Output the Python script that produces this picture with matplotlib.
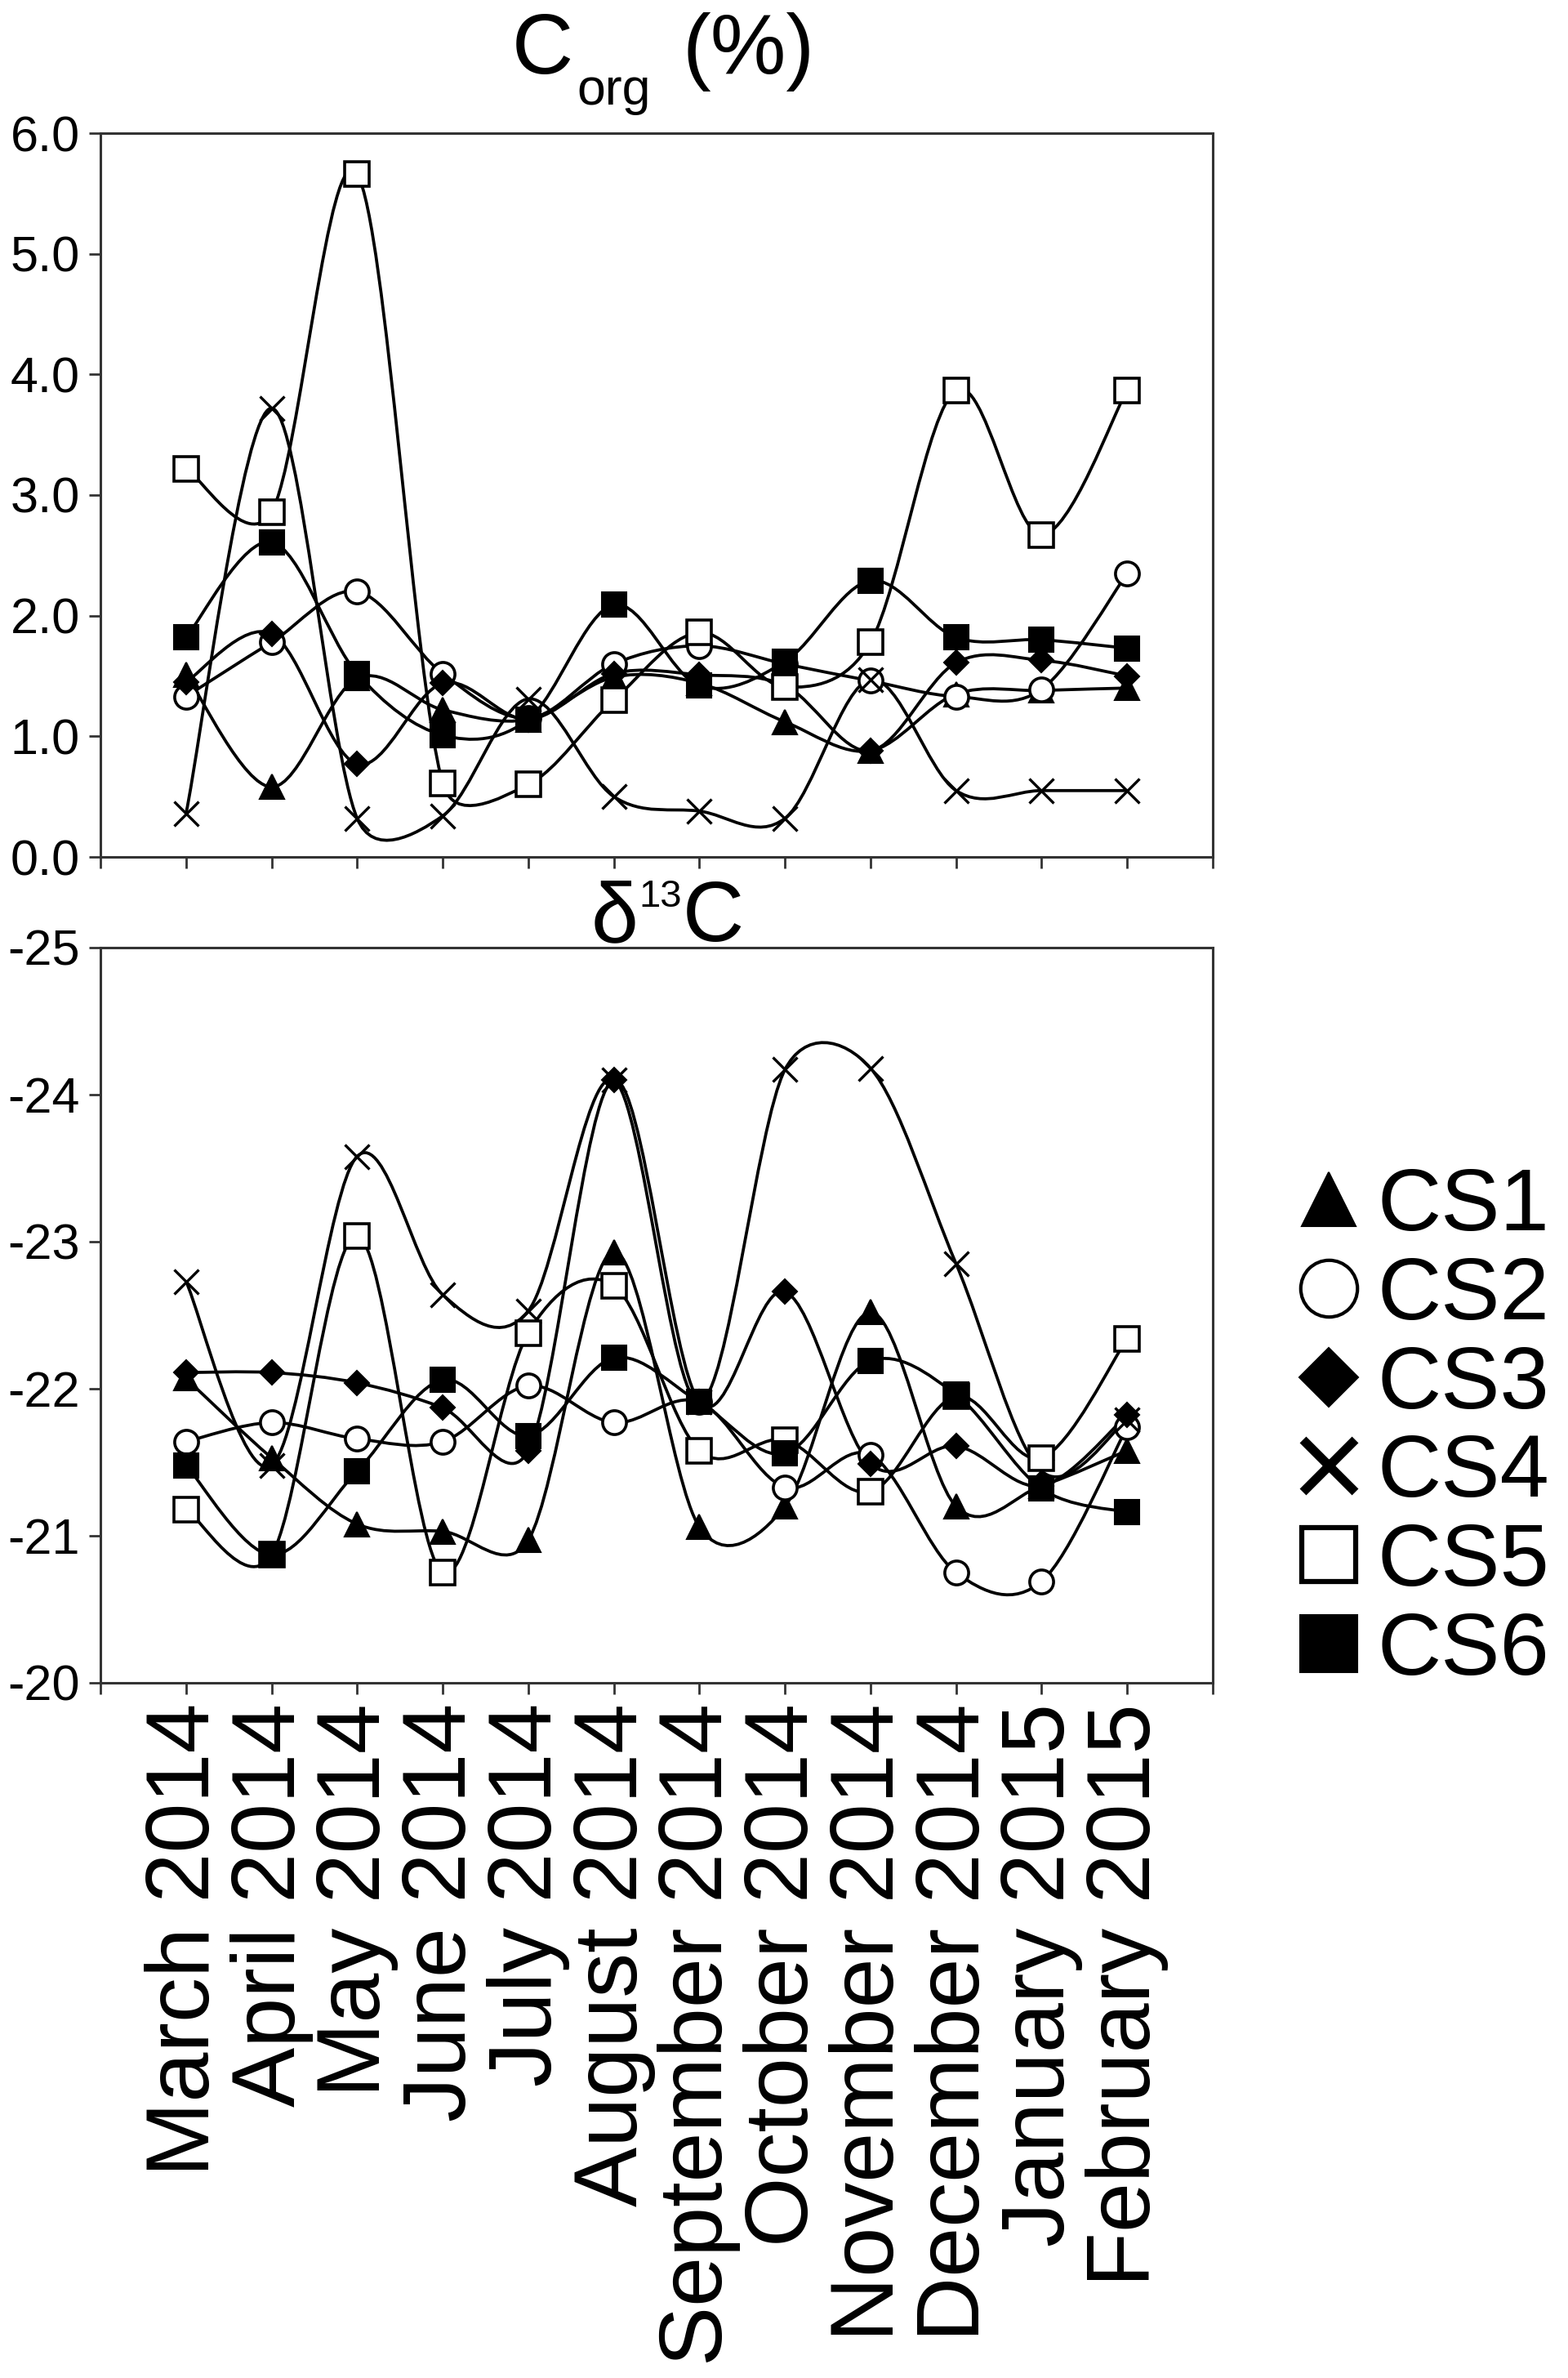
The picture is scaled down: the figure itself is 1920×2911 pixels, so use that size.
import matplotlib
matplotlib.use("Agg")
import numpy as np
import matplotlib.pyplot as plt
from matplotlib.path import Path
from matplotlib.patches import PathPatch
from matplotlib.lines import Line2D

plt.rcParams["font.family"] = ["Liberation Sans", "DejaVu Sans"]
plt.rcParams["axes.unicode_minus"] = False

# ---- data ----
months = ["March 2014", "April 2014", "May 2014", "June 2014", "July 2014",
          "August 2014", "September 2014", "October 2014", "November 2014",
          "December 2014", "January 2015", "February 2015"]
stations = ["CS1", "CS2", "CS3", "CS4", "CS5", "CS6"]

# Corg (%)
corg_cs1 = [1.51, 0.58, 1.48, 1.22, 1.14, 1.49, 1.44, 1.12, 0.88, 1.35, 1.38, 1.40]
corg_cs2 = [1.33, 1.78, 2.20, 1.52, 1.15, 1.60, 1.75, 1.60, 1.46, 1.33, 1.39, 2.35]
corg_cs3 = [1.45, 1.85, 0.77, 1.44, 1.14, 1.52, 1.51, 1.42, 0.88, 1.61, 1.63, 1.50]
corg_cs4 = [0.36, 3.72, 0.32, 0.34, 1.31, 0.50, 0.38, 0.32, 1.47, 0.55, 0.55, 0.55]
corg_cs5 = [3.22, 2.86, 5.66, 0.61, 0.60, 1.30, 1.86, 1.41, 1.78, 3.87, 2.67, 3.87]
corg_cs6 = [1.82, 2.61, 1.52, 1.01, 1.14, 2.09, 1.42, 1.62, 2.29, 1.82, 1.80, 1.73]

# delta 13C
d13c_cs1 = [-22.07, -21.53, -21.08, -21.03, -20.97, -22.93, -21.06, -21.20, -22.52, -21.20, -21.34, -21.58]
d13c_cs2 = [-21.64, -21.77, -21.66, -21.64, -22.02, -21.77, -21.91, -21.33, -21.55, -20.75, -20.69, -21.74]
d13c_cs3 = [-22.11, -22.11, -22.04, -21.87, -21.58, -24.10, -21.91, -22.66, -21.49, -21.61, -21.34, -21.82]
d13c_cs4 = [-22.73, -21.48, -23.58, -22.64, -22.53, -24.10, -21.91, -24.17, -24.18, -22.85, -21.44, -21.79]
d13c_cs5 = [-21.18, -20.87, -23.04, -20.75, -22.38, -22.70, -21.58, -21.65, -21.30, -21.95, -21.53, -22.34]
d13c_cs6 = [-21.48, -20.87, -21.44, -22.06, -21.68, -22.21, -21.91, -21.56, -22.19, -21.96, -21.32, -21.16]

corg = [corg_cs1, corg_cs2, corg_cs3, corg_cs4, corg_cs5, corg_cs6]
d13c = [d13c_cs1, d13c_cs2, d13c_cs3, d13c_cs4, d13c_cs5, d13c_cs6]

# marker styles per station
styles = [
    dict(marker="^", ms=22, mfc="black", mec="black", mew=1.5),
    dict(marker="o", ms=21, mfc="white", mec="black", mew=2.6),
    dict(marker="D", ms=15.5, mfc="black", mec="black", mew=1.5),
    dict(marker="x", ms=21, mfc="black", mec="black", mew=2.4),
    dict(marker="s", ms=21, mfc="white", mec="black", mew=2.6),
    dict(marker="s", ms=22, mfc="black", mec="black", mew=1.5),
]
legend_styles = [
    dict(marker="^", ms=47, mfc="black", mec="black", mew=1.5),
    dict(marker="o", ms=50, mfc="white", mec="black", mew=3),
    dict(marker="D", ms=37, mfc="black", mec="black", mew=1.5),
    dict(marker="x", ms=46, mfc="black", mec="black", mew=8),
    dict(marker="s", ms=48, mfc="white", mec="black", mew=4.5),
    dict(marker="s", ms=50, mfc="black", mec="black", mew=1.5),
]

W, H = 1920, 2911


def smooth_path(ax, xs, ys):
    # spreadsheet-style smoothed line: cubic Bezier pieces whose handles
    # are capped at half the segment length (worked out in pixels)
    p = ax.transData.transform(np.column_stack([xs, ys]))
    n = len(p)
    verts = [p[0]]
    codes = [Path.MOVETO]
    for i in range(n - 1):
        p0 = p[i - 1] if i > 0 else p[i]
        p1, p2 = p[i], p[i + 1]
        p3 = p[i + 2] if i + 2 < n else p[i + 1]
        d12 = np.hypot(*(p2 - p1))
        d02 = np.hypot(*(p2 - p0))
        d13 = np.hypot(*(p3 - p1))
        f0 = min(1 / 6, d12 / (2 * d02)) if d02 > 0 else 0
        f1 = min(1 / 6, d12 / (2 * d13)) if d13 > 0 else 0
        verts += [p1 + (p2 - p0) * f0, p2 - (p3 - p1) * f1, p2]
        codes += [Path.CURVE4] * 3
    data = ax.transData.inverted().transform(np.array(verts))
    return Path(data, codes)


def draw_panel(ax, series, ylim):
    xs = list(range(len(months)))
    ax.set_xlim(-1, 12)
    ax.set_ylim(*ylim)
    ax.set_xticks(range(-1, 13))
    for ys in series:
        ax.add_patch(PathPatch(smooth_path(ax, xs, ys), facecolor="none",
                               edgecolor="black", lw=2.7, zorder=2))
    for ys, st in zip(series, styles):
        ax.plot(xs, ys, linestyle="none", zorder=3, **st)
    for s in ax.spines.values():
        s.set_color("#333333")
        s.set_linewidth(2.2)
    ax.tick_params(direction="out", length=10, width=2, color="#333333",
                   labelsize=44, pad=8)


fig = plt.figure(figsize=(W / 100, H / 100), dpi=100)

ax1 = fig.add_axes([123 / W, 1 - 1049 / H, 1362 / W, 886 / H])
draw_panel(ax1, corg, (0, 6))
ax1.set_yticks([0, 1, 2, 3, 4, 5, 6])
ax1.set_yticklabels([f"{v:.1f}" for v in range(7)])
ax1.set_xticklabels([""] * 14)

ax2 = fig.add_axes([123 / W, 1 - 2060 / H, 1362 / W, 900 / H])
draw_panel(ax2, d13c, (-20, -25))
ax2.set_yticks([-25, -24, -23, -22, -21, -20])
ax2.set_yticklabels([str(v) for v in [-25, -24, -23, -22, -21, -20]])
ax2.set_xticklabels([""] + months + [""], rotation=90, fontsize=79)
ax2.tick_params(axis="x", pad=8)

# titles built from pieces (big C, small subscript / superscript)
fig.text(627 / W, 1 - 90 / H, "C", fontsize=75, va="baseline", ha="left")
fig.text(706 / W, 1 - 128 / H, "org", fontsize=45, va="baseline", ha="left")
fig.text(836 / W, 1 - 90 / H, "(%)", fontsize=75, va="baseline", ha="left")

fig.text(724 / W, 1 - 1152 / H, "\u03b4", fontsize=75, va="baseline", ha="left")
fig.text(782 / W, 1 - 1110 / H, "13", fontsize=34, va="baseline", ha="left")
fig.text(836 / W, 1 - 1152 / H, "C", fontsize=75, va="baseline", ha="left")

handles = [Line2D([], [], linestyle="none", **st) for st in legend_styles]
fig.legend(handles, stations, loc="center left",
           bbox_to_anchor=(1594 / W, 1 - 1750 / H), frameon=False,
           fontsize=78, handlelength=0.6, handletextpad=0.25,
           labelspacing=0.08, borderpad=0, borderaxespad=0)

fig.savefig("out.png", dpi=100)
